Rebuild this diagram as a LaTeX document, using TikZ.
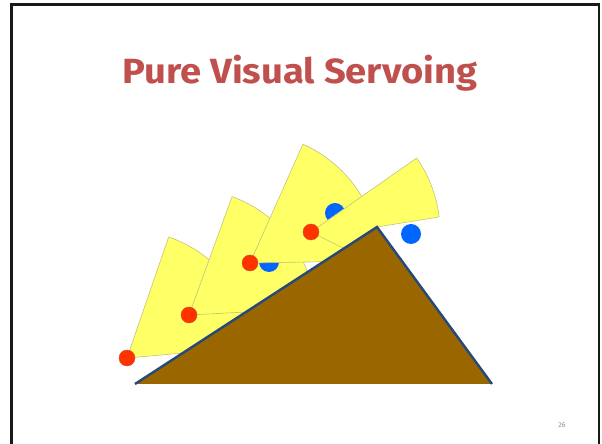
\documentclass[tikz,border=0pt]{standalone}
\usepackage{fontspec}
\setmainfont{Fira Sans}
\definecolor{titlered}{HTML}{C0504D}
\definecolor{secyellow}{HTML}{FFFF66}
\definecolor{secline}{HTML}{C4C47A}
\definecolor{dotred}{HTML}{FF3300}
\definecolor{dotredline}{HTML}{D94A2A}
\definecolor{dotblue}{HTML}{0066FF}
\definecolor{brown}{HTML}{996600}
\definecolor{edgeblue}{HTML}{24497A}
\begin{document}
\begin{tikzpicture}[x=1pt,y=1pt,
  sector/.style={fill=secyellow,draw=secline,line width=0.6pt,line join=round},
  reddot/.style={circle,fill=dotred,draw=dotredline,line width=0.4pt,minimum size=16pt,inner sep=0pt},
  bluedot/.style={circle,fill=dotblue,minimum size=20pt,inner sep=0pt},
  frameline/.style={line width=2.7pt,black!90}]
\useasboundingbox (0,0) rectangle (602,444);
% frame
\draw[frameline] (11.3,-5) -- (11.3,439.5) -- (599,439.5) -- (599,-5);
% title
\node[text=titlered,font=\bfseries\fontsize{35}{38}\selectfont] (title) at (300,371) {\scalebox{1.09}[1]{Pure Visual Servoing}};
% sectors
\coordinate (r1) at (127,86);
\coordinate (r2) at (189,129);
\coordinate (r3) at (250,181);
\coordinate (r4) at (311,212);
\draw[sector] (r1) -- ++(71:128) arc[start angle=71,end angle=5,radius=128] -- cycle;
\draw[sector] (r2) -- ++(70:126) arc[start angle=70,end angle=3,radius=126] -- cycle;
\node[bluedot] (b1) at (269,182) {};
\draw[sector] (r3) -- ++(66:130) arc[start angle=66,end angle=1,radius=130] -- cycle;
\node[bluedot] (b2) at (335,231) {};
\coordinate (tapex) at (377,217);
\coordinate (tleft) at (135,60);
\coordinate (tright) at (492,60);
\fill[secyellow] (r4) -- ++(35:129) arc[start angle=35,end angle=6.7,radius=129] -- (tapex) -- (343,196) -- cycle;
\draw[secline,line width=0.6pt,line join=round] (343,196) -- (r4) -- ++(35:129) arc[start angle=35,end angle=6.7,radius=129] -- (tapex);
\node[bluedot] (b3) at (411,210) {};
% triangle
\fill[brown] (tleft) -- (tapex) -- (tright) -- cycle;
\draw[edgeblue,line width=2.4pt,line join=miter] (tleft) -- (tapex) -- (tright);
% red dots
\node[reddot] (d1) at (r1) {};
\node[reddot] (d2) at (r2) {};
\node[reddot] (d3) at (r3) {};
\node[reddot] (d4) at (r4) {};
% page number
\node[text=black!45,font=\fontsize{7}{8}\selectfont] (pnum) at (562,19) {26};
\end{tikzpicture}
\end{document}
